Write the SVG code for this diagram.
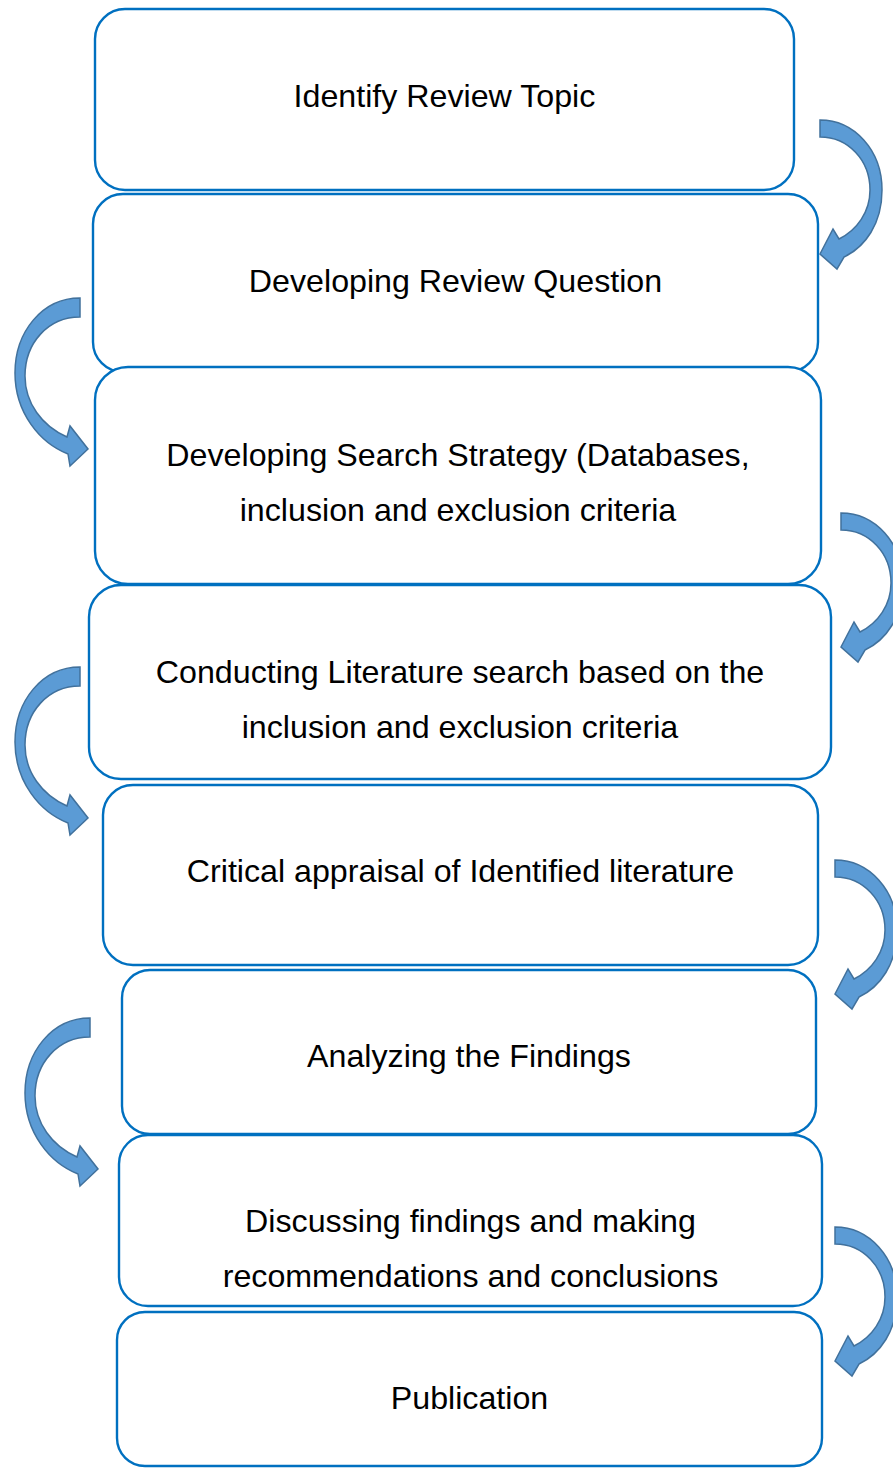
<svg xmlns="http://www.w3.org/2000/svg" xmlns:xlink="http://www.w3.org/1999/xlink" width="893" height="1468" viewBox="0 0 893 1468">
  <style>
    .box { fill: #ffffff; stroke: #0070C0; stroke-width: 2.4; }
    .label { font-family: "Liberation Sans", Arial, sans-serif; font-size: 32.2px; fill: #000000; text-anchor: middle; }
    .curve { fill: #5B9BD5; stroke: #41719C; stroke-width: 1.5; stroke-linejoin: miter; }
  </style>
  <defs>
    <!-- curved arrow bending to the right, tail at local origin -->
    <path id="curveRight" class="curve" d="M 0 0 C 34 0, 62 30, 62 70 C 62 104, 45 127, 24 137 L 17 149 L 0 134 L 13 109 L 19 119 C 37 110, 50 92, 50 70 C 50 40, 28 17, 0 17 Z"/>
    <!-- curved arrow bending to the left (drawn in mirrored local space) -->
    <path id="curveLeft" class="curve" d="M 0 0 C 38 0, 65 34, 65 75 C 65 115, 40 145, 12 156 L 10 168 L -8 151 L 10 128 L 13 139 C 38 128, 55 105, 55 78 C 55 45, 32 19, 0 19 Z"/>
  </defs>

  <rect width="893" height="1468" fill="#ffffff"/>

  <g id="node-topic">
    <rect class="box" x="95" y="9" width="699" height="181" rx="30" ry="30"/>
    <text class="label" x="444.5" y="107">Identify Review Topic</text>
  </g>
  <g id="node-question">
    <rect class="box" x="93" y="194" width="725" height="178" rx="30" ry="30"/>
    <text class="label" x="455.5" y="292">Developing Review Question</text>
  </g>
  <g id="node-strategy">
    <rect class="box" x="95" y="367" width="726" height="217" rx="33" ry="33"/>
    <text class="label" x="458" y="466">Developing Search Strategy (Databases,</text>
    <text class="label" x="458" y="521">inclusion and exclusion criteria</text>
  </g>
  <g id="node-search">
    <rect class="box" x="89" y="585" width="742" height="194" rx="32" ry="32"/>
    <text class="label" x="460" y="683">Conducting Literature search based on the</text>
    <text class="label" x="460" y="738">inclusion and exclusion criteria</text>
  </g>
  <g id="node-appraisal">
    <rect class="box" x="103" y="785" width="715" height="180" rx="30" ry="30"/>
    <text class="label" x="460.5" y="882">Critical appraisal of Identified literature</text>
  </g>
  <g id="node-analysis">
    <rect class="box" x="122" y="970" width="694" height="164" rx="28" ry="28"/>
    <text class="label" x="469" y="1067">Analyzing the Findings</text>
  </g>
  <g id="node-discussion">
    <rect class="box" x="119" y="1135" width="703" height="171" rx="29" ry="29"/>
    <text class="label" x="470.5" y="1232">Discussing findings and making</text>
    <text class="label" x="470.5" y="1287">recommendations and conclusions</text>
  </g>
  <g id="node-publication">
    <rect class="box" x="117" y="1312" width="705" height="154" rx="28" ry="28"/>
    <text class="label" x="469.5" y="1409">Publication</text>
  </g>

  <g id="connectors">
    <use xlink:href="#curveRight" transform="translate(820,120)"/>
    <use xlink:href="#curveLeft" transform="translate(80,298) scale(-1,1)"/>
    <use xlink:href="#curveRight" transform="translate(841,513)"/>
    <use xlink:href="#curveLeft" transform="translate(80,667) scale(-1,1)"/>
    <use xlink:href="#curveRight" transform="translate(835,860)"/>
    <use xlink:href="#curveLeft" transform="translate(90,1018) scale(-1,1)"/>
    <use xlink:href="#curveRight" transform="translate(835,1227)"/>
  </g>
</svg>
